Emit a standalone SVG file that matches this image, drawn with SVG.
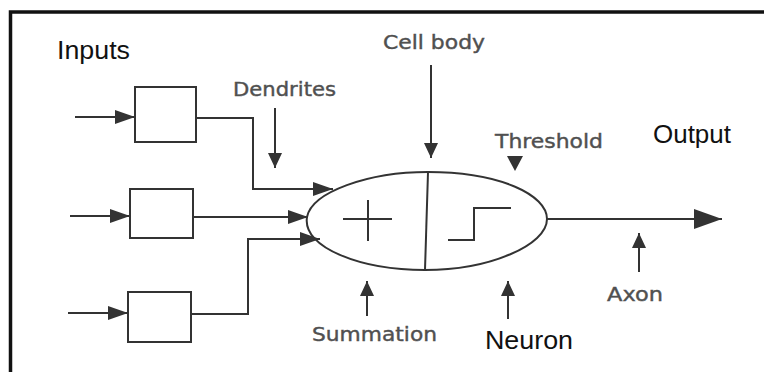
<svg xmlns="http://www.w3.org/2000/svg" width="764" height="372" viewBox="0 0 764 372">
<style>
.ln{fill:none;stroke:#333;stroke-width:2}
.bx{fill:#fff;stroke:#333;stroke-width:2}
.lbl{font-family:"DejaVu Sans",sans-serif;fill:#505050;stroke:#505050;stroke-width:0.4;font-size:19px}
.big{font-family:"Liberation Sans",Arial,sans-serif;fill:#111;font-size:26px}
</style>
<defs>
<marker id="mIn" markerUnits="userSpaceOnUse" viewBox="0 0 20 14" markerWidth="20" markerHeight="14" refX="20" refY="7" orient="auto"><path d="M0,0 L20,7 L0,14 Z" fill="#333"/></marker>
<marker id="mLbl" markerUnits="userSpaceOnUse" viewBox="0 0 15 14" markerWidth="15" markerHeight="14" refX="15" refY="7" orient="auto"><path d="M0,0 L15,7 L0,14 Z" fill="#333"/></marker>
<marker id="mBig" markerUnits="userSpaceOnUse" viewBox="0 0 28 20" markerWidth="28" markerHeight="20" refX="28" refY="10" orient="auto"><path d="M0,0 L28,10 L0,20 Z" fill="#333"/></marker>
</defs>
<rect width="764" height="372" fill="#fff"/>
<path d="M10.5,372 V12 H764" fill="none" stroke="#111" stroke-width="3.5"/>

<g id="connectors">
<path class="ln" d="M75,117 H135" marker-end="url(#mIn)"/>
<path class="ln" d="M70,216 H130" marker-end="url(#mIn)"/>
<path class="ln" d="M68,313 H128" marker-end="url(#mIn)"/>
<path class="ln" d="M196,118 H253 V189 H333" marker-end="url(#mIn)"/>
<path class="ln" d="M193,217 H308" marker-end="url(#mIn)"/>
<path class="ln" d="M191,314 H248 V239 H320" marker-end="url(#mIn)"/>
<path class="ln" d="M547,219 H722" marker-end="url(#mBig)"/>
<path class="ln" d="M275,108 V168" marker-end="url(#mLbl)"/>
<path class="ln" d="M431,65 V158" marker-end="url(#mLbl)"/>
<path class="ln" d="M367,316 V281" marker-end="url(#mLbl)"/>
<path class="ln" d="M508,319 V281" marker-end="url(#mLbl)"/>
<path class="ln" d="M639,272 V233" marker-end="url(#mLbl)"/>
<path d="M507,156 L523,156 L515,171 Z" fill="#333"/>
</g>

<g id="box1"><rect class="bx" x="135" y="87" width="61" height="55"/></g>
<g id="box2"><rect class="bx" x="130" y="189" width="63" height="49"/></g>
<g id="box3"><rect class="bx" x="128" y="292" width="63" height="50"/></g>

<g id="neuron">
<path class="ln" d="M307,217 C312,192 368,172 428,172 C500,172 547,195 547,219 C547,245 490,270 425,270 C362,270 302,248 307,217 Z"/>
<path class="ln" d="M428,172 L425,270"/>
<path class="ln" d="M343,219 H392 M368,200 V241"/>
<path class="ln" d="M448,240 H474 V208 H511"/>
</g>

<g id="labels">
<text class="big" x="57" y="59" textLength="73" lengthAdjust="spacingAndGlyphs">Inputs</text>
<text class="big" x="653" y="143" textLength="78" lengthAdjust="spacingAndGlyphs">Output</text>
<text class="big" x="485" y="349" textLength="88" lengthAdjust="spacingAndGlyphs">Neuron</text>
<text class="lbl" x="233" y="96" textLength="103" lengthAdjust="spacingAndGlyphs">Dendrites</text>
<text class="lbl" x="383" y="49" textLength="102" lengthAdjust="spacingAndGlyphs">Cell body</text>
<text class="lbl" x="495" y="148" textLength="108" lengthAdjust="spacingAndGlyphs">Threshold</text>
<text class="lbl" x="312" y="341" font-size="17" textLength="125" lengthAdjust="spacingAndGlyphs">Summation</text>
<text class="lbl" x="607" y="301" textLength="56" lengthAdjust="spacingAndGlyphs">Axon</text>
</g>
</svg>
